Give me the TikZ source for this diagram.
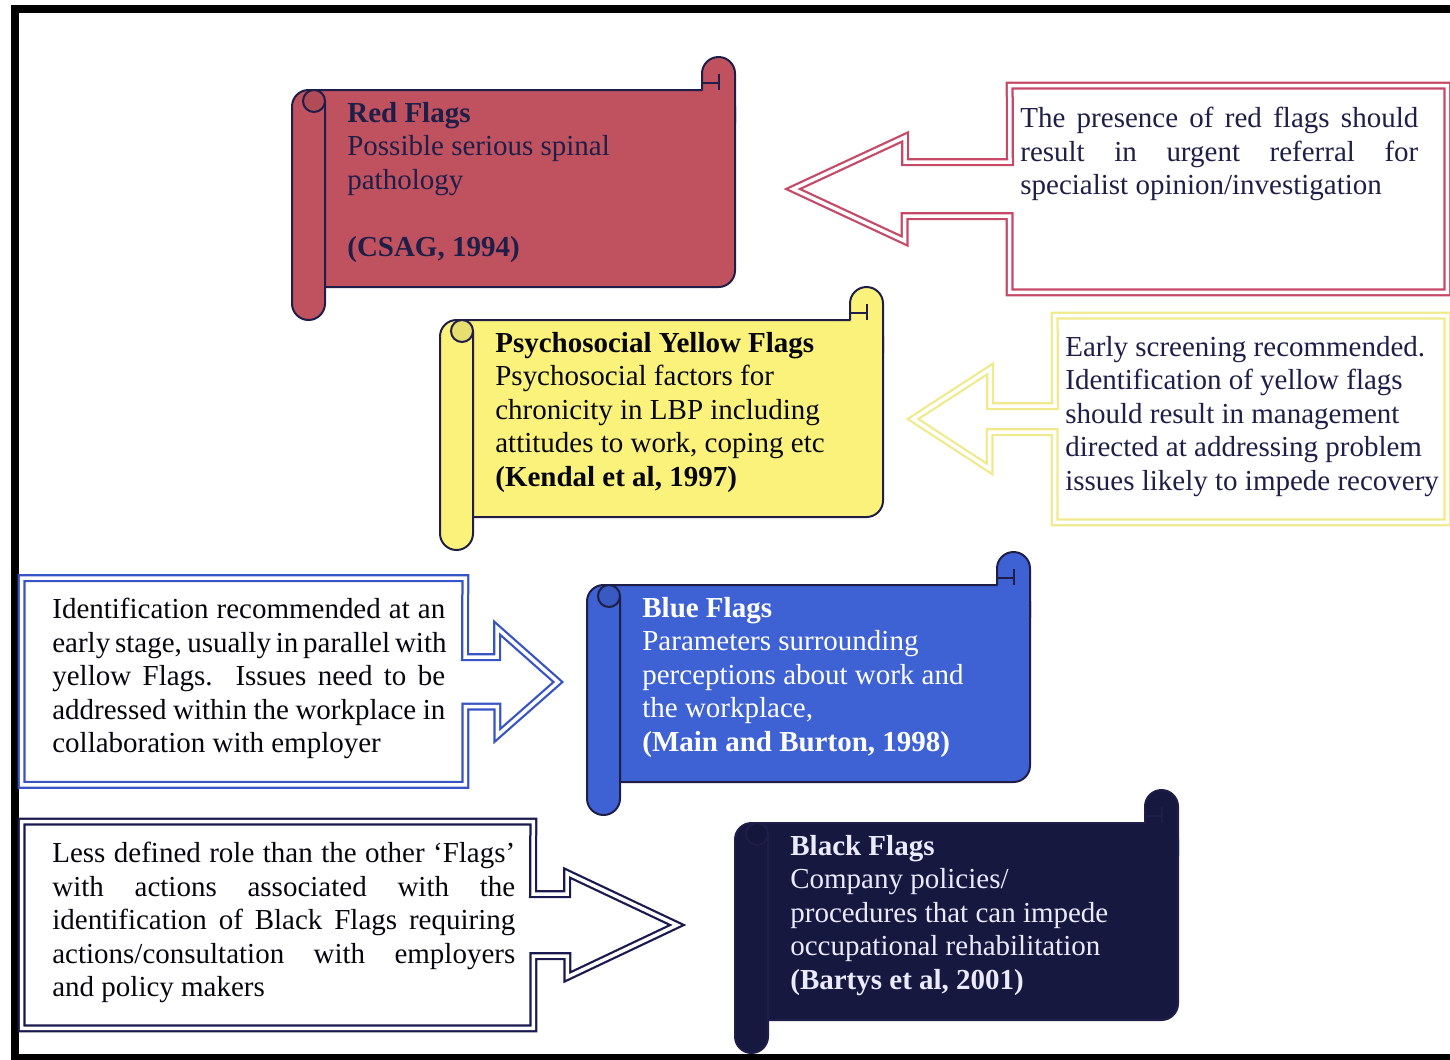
\documentclass[tikz,border=0pt]{standalone}
\usepackage{fontspec}
\setmainfont{Liberation Serif}
\usetikzlibrary{positioning,calc}

\definecolor{redflag}{RGB}{192,82,96}
\definecolor{yellowflag}{RGB}{250,242,122}
\definecolor{blueflag}{RGB}{62,98,212}
\definecolor{blackflag}{RGB}{22,24,64}
\definecolor{navy}{RGB}{30,30,72}
\definecolor{redline}{RGB}{196,74,104}
\definecolor{yellowline}{RGB}{240,234,140}
\definecolor{blueline}{RGB}{56,84,196}
\definecolor{blackline}{RGB}{26,26,80}

\begin{document}
\begin{tikzpicture}[x=0.02cm, y=-0.02cm,
    scrollline/.style={draw=navy, line width=0.04cm},
    txt/.style={font=\fontsize{16.5}{19.07}\selectfont, inner sep=0pt, anchor=north west, align=left},
    notebox/.style={minimum width=#1, minimum height=4.12cm, inner sep=0pt},
    notes/.style={double=white, double distance=0.07cm, line width=0.045cm, line join=miter}]
    \useasboundingbox (0,0) rectangle (1450,1059);

    % frame
    \draw[line width=0.16cm] (1450,9) -- (15,9) -- (15,1058) -- (1450,1058);

    % scrolls
    \foreach \x/\y/\col in {292/57/redflag,440/287/yellowflag,587/552/blueflag,735/790/blackflag}{
        \draw[scrollline, fill=\col, rounded corners=0.33cm] (\x,\y+33) rectangle (\x+443,\y+230);
        \draw[scrollline, fill=\col, rounded corners=0.33cm] (\x+410,\y+33) -- (\x+410,\y) -- (\x+443,\y) -- (\x+443,\y+66);
        \draw[scrollline] (\x+410,\y+26) -- (\x+427,\y+26) (\x+427,\y+17) -- (\x+427,\y+33);
        \draw[scrollline, fill=\col, rounded corners=0.33cm] (\x+33,\y+44) -- (\x+33,\y+263) -- (\x,\y+263) -- (\x,\y+50);
        \draw[scrollline, fill=\col!92!black] (\x+22,\y+44) circle[radius=11];
    }

    \node[txt, text=navy] (redtxt) at (347,102) {\textbf{Red Flags}\\Possible serious spinal\\pathology\\[0.67cm]\textbf{(CSAG, 1994)}};
    \node[txt, text=black!80!navy] (yellowtxt) at (495,332) {\textbf{Psychosocial Yellow Flags}\\Psychosocial factors for\\chronicity in LBP including\\attitudes to work, coping etc\\\textbf{(Kendal et al, 1997)}};
    \node[txt, text=white] (bluetxt) at (642,597) {\textbf{Blue Flags}\\Parameters surrounding\\perceptions about work and\\the workplace,\\\textbf{(Main and Burton, 1998)}};
    \node[txt, text=white!92!blue] (blacktxt) at (790,835) {\textbf{Black Flags}\\Company policies/\\procedures that can impede\\occupational rehabilitation\\\textbf{(Bartys et al, 2001)}};

    % notes with block arrows
    \node[notebox=8.74cm] (rnote) at (1228.5,189) {};
    \node[notebox=7.84cm] (ynote) at (1251,419) {};
    \node[notebox=8.86cm] (bnote) at (243.5,681.5) {};
    \node[notebox=10.22cm] (knote) at (277.5,925) {};
    \coordinate (redtip) at (793,189);
    \coordinate (yellowtip) at (913,419);
    \coordinate (bluetip) at (558,682);
    \coordinate (blacktip) at (677,925);

    \draw[notes, draw=redline] (rnote.north west) -- (rnote.north east) -- (rnote.south east) -- (rnote.south west) -- ($(rnote.west)+(0,27)$) -- ++(-105,0) -- ++(0,25) -- (redtip) -- ++(112,-52) -- ++(0,25) -- ++(105,0) -- cycle;
    \draw[notes, draw=yellowline] (ynote.north west) -- (ynote.north east) -- (ynote.south east) -- (ynote.south west) -- ($(ynote.west)+(0,13)$) -- ++(-65,0) -- ++(0,37) -- (yellowtip) -- ++(77,-50) -- ++(0,37) -- ++(65,0) -- cycle;
    \draw[notes, draw=blueline] (bnote.north east) -- (bnote.north west) -- (bnote.south west) -- (bnote.south east) -- ($(bnote.east)+(0,25)$) -- ++(32,0) -- ++(0,29) -- (bluetip) -- ++(-61,-54) -- ++(0,29) -- ++(-32,0) -- cycle;
    \draw[notes, draw=blackline] (knote.north east) -- (knote.north west) -- (knote.south west) -- (knote.south east) -- ($(knote.east)+(0,31)$) -- ++(34,0) -- ++(0,21) -- (blacktip) -- ++(-110,-52) -- ++(0,21) -- ++(-34,0) -- cycle;

    \node[txt, text=navy] (rtext) at (1020,107) {\makebox[7.96cm][s]{The presence of red flags should}\\\makebox[7.96cm][s]{result in urgent referral for}\\specialist opinion/investigation};
    \node[txt, text=navy] (ytext) at (1065,336) {Early screening recommended.\\Identification of yellow flags\\should result in management\\directed at addressing problem\\issues likely to impede recovery};
    \node[txt, text=black!80!navy] (btext) at (52,598) {\makebox[7.86cm][s]{Identification recommended at an}\\\makebox[7.86cm][s]{early stage, usually in parallel with}\\\makebox[7.86cm][s]{yellow Flags.\ \ Issues need to be}\\\makebox[7.86cm][s]{addressed within the workplace in}\\collaboration with employer};
    \node[txt, text=black!80!navy] (ktext) at (52,842) {\makebox[9.26cm][s]{Less defined role than the other `Flags'}\\\makebox[9.26cm][s]{with actions associated with the}\\\makebox[9.26cm][s]{identification of Black Flags requiring}\\\makebox[9.26cm][s]{actions/consultation with employers}\\and policy makers};
\end{tikzpicture}
\end{document}
